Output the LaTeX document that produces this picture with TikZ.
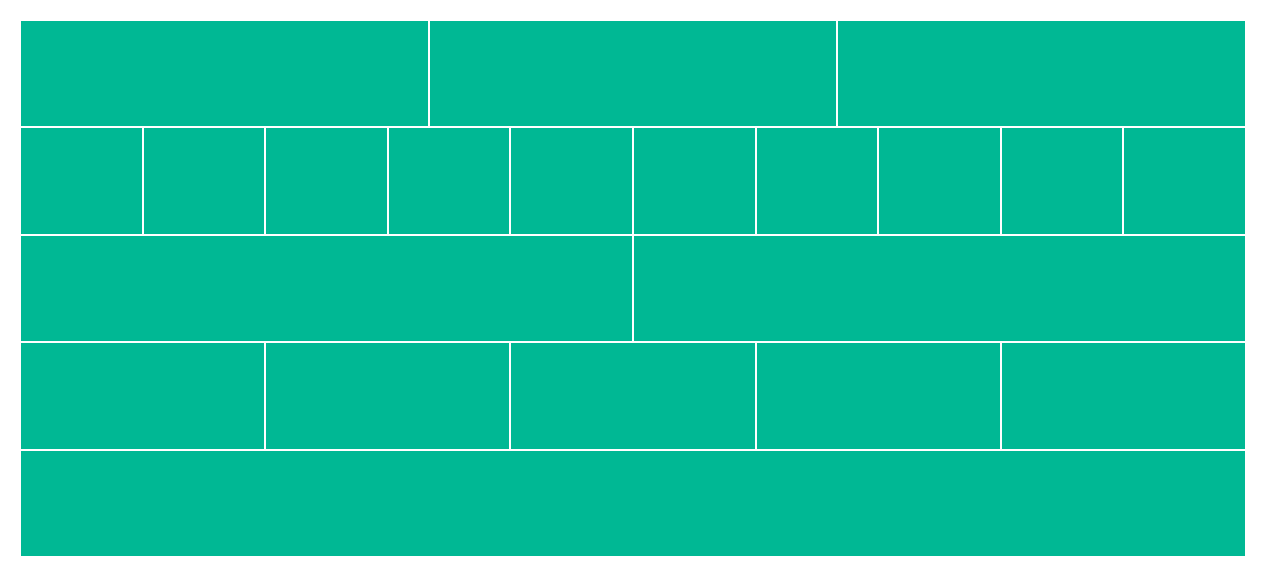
\documentclass[tikz,border=0pt]{standalone}
\usepackage{tikz}
\usetikzlibrary{positioning}
\definecolor{wall}{RGB}{0,184,148}

\begin{document}
\begin{tikzpicture}[x=1cm,y=1cm,
  brick/.style={draw=white, fill=wall, line width=0.02cm, rectangle,
    inner sep=0pt, outer sep=0pt, anchor=north west, minimum height=1.074cm}]
\useasboundingbox (0,0) rectangle (12.70,5.77);
% rows of the wall: number of equal bricks per row
\foreach \parts [count=\row] in {3,10,2,5,1} {
  \pgfmathsetmacro{\w}{12.26/\parts}
  \pgfmathsetmacro{\top}{5.57-1.074*(\row-1)}
  \foreach \k in {1,...,\parts} {
    \node[brick, minimum width=\w cm] (b\row-\k) at ({0.20+\w*(\k-1)},\top) {};
  }
}
\end{tikzpicture}
\end{document}
